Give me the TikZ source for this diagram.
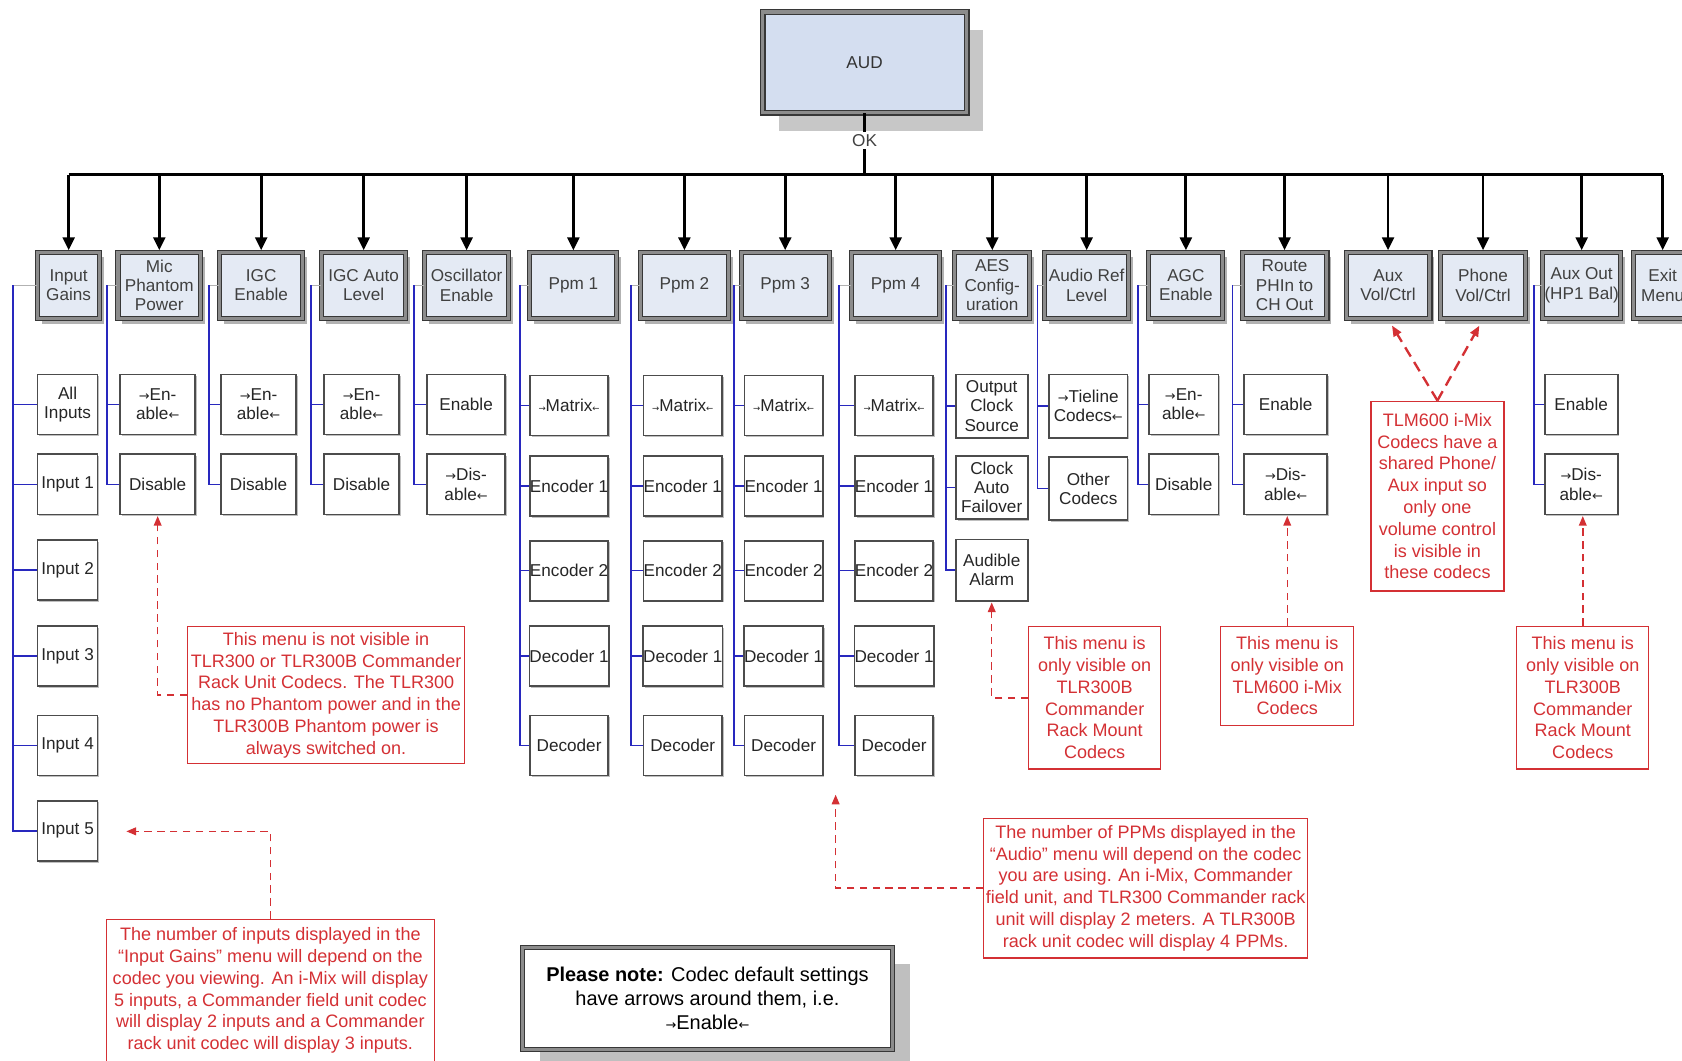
\documentclass[tikz,border=0pt]{standalone}
\usepackage{fontspec}
\setmainfont{Liberation Sans}
\newfontfamily\arrowfont{DejaVu Sans}
\usetikzlibrary{arrows.meta,shadows}
\definecolor{audfill}{RGB}{212,222,240}
\definecolor{topfill}{RGB}{228,234,244}
\definecolor{treeblue}{RGB}{40,40,190}
\definecolor{notered}{RGB}{212,48,52}
\definecolor{framec}{RGB}{55,55,55}
\definecolor{bandc}{RGB}{140,140,140}
\newcommand\rarr{{\arrowfont\fontsize{6}{6}\selectfont →}}
\newcommand\larr{{\arrowfont\fontsize{6}{6}\selectfont ←}}
\newcommand\srarr{{\arrowfont\fontsize{4}{4}\selectfont →}}
\newcommand\slarr{{\arrowfont\fontsize{4}{4}\selectfont ←}}
\tikzset{
  audbox/.style={rectangle, fill=audfill, draw=framec, double=bandc, double distance=1.6pt, line width=0.6pt,
    inner sep=0pt, align=center, text=black!80, font=\fontsize{8}{9}\selectfont,
    drop shadow={shadow xshift=7.5pt, shadow yshift=-8.5pt, fill=black!22, opacity=1}},
  topbox/.style={rectangle, fill=topfill, draw=framec, double=bandc, double distance=1.4pt, line width=0.5pt,
    inner sep=0pt, align=center, text=black!75, minimum height=31pt, font=\fontsize{8}{9}\selectfont,
    drop shadow={shadow xshift=2pt, shadow yshift=-2.5pt, fill=black!30, opacity=1}},
  subbox/.style={rectangle, fill=white, draw=black!70, line width=0.8pt, inner sep=0pt, align=center,
    text=black!85, minimum height=28pt, font=\fontsize{8}{9}\selectfont,
    drop shadow={shadow xshift=0.8pt, shadow yshift=-0.8pt, fill=black!25, opacity=1}},
  notebox/.style={rectangle, fill=white, draw=notered, line width=0.6pt, inner sep=0pt, align=center,
    text=notered, font=\fontsize{8.4}{10.15}\selectfont},
  pleasebox/.style={rectangle, fill=white, draw=framec, double=bandc, double distance=1.4pt, line width=0.5pt,
    inner sep=0pt, align=center, text=black, font=\fontsize{9.3}{11.3}\selectfont,
    drop shadow={shadow xshift=8pt, shadow yshift=-8pt, fill=black!25, opacity=1}},
  busline/.style={line width=1.5pt, black},
  busarrow/.style={line width=1.3pt, black, -{Triangle[length=6pt,width=5.5pt]}, shorten >=0.6pt},
  treeline/.style={line width=0.75pt, treeblue},
  graystub/.style={line width=0.5pt, black!30},
  notearrow/.style={line width=0.7pt, notered, dash pattern=on 3.5pt off 2.5pt, -{Triangle[length=4.5pt,width=3.6pt]}, shorten >=0.4pt},
  vnotearrow/.style={line width=1.1pt, notered, dash pattern=on 5pt off 3pt, -{Triangle[length=5pt,width=4pt]}, shorten >=3.5pt},
  oklabel/.style={fill=white, inner sep=1pt, text=black!75, font=\fontsize{8}{9}\selectfont}
}
\newcommand\mytree[4]{%
  \coordinate (t#2) at (#1,266);
  \draw[graystub] (t#2) -- (#2.west);
  \draw[treeline] (t#2) |- (#3.west);
  \foreach \c in {#4} \draw[treeline] (t#2 |- \c.west) -- (\c.west);
}
\begin{document}
\begin{tikzpicture}[x=0.5pt,y=-0.5pt]
\useasboundingbox (0,0) rectangle (1568,989);
\clip (0,0) rectangle (1568,989);
\fill[white] (0,0) rectangle (1568,989);

% root
\node[audbox, minimum width=95pt, minimum height=47pt] (aud) at (806,58) {AUD};
\node[oklabel] (ok) at (806,131) {OK};
\coordinate (bus) at (806,163);

% top level
\node[topbox, minimum width=29pt]   (ig)     at (64,266)    {Input\\Gains};
\node[topbox, minimum width=38.5pt] (mic)    at (148.5,266) {Mic\\Phantom\\Power};
\node[topbox, minimum width=38.5pt] (igc)    at (243.5,266) {IGC\\Enable};
\node[topbox, minimum width=39pt]   (igca)   at (339,266)   {IGC Auto\\Level};
\node[topbox, minimum width=39pt]   (osc)    at (435,266)   {Oscillator\\Enable};
\node[topbox, minimum width=40.5pt] (pa)     at (534.5,266) {Ppm 1};
\node[topbox, minimum width=41pt]   (pb)     at (638,266)   {Ppm 2};
\node[topbox, minimum width=41pt]   (pc)     at (732,266)   {Ppm 3};
\node[topbox, minimum width=41pt]   (pd)     at (835,266)   {Ppm 4};
\node[topbox, minimum width=35pt]   (aes)    at (925,266)   {AES\\Config-\\uration};
\node[topbox, minimum width=39pt]   (aref)   at (1013,266)  {Audio Ref\\Level};
\node[topbox, minimum width=34.5pt] (agc)    at (1105.5,266){AGC\\Enable};
\node[topbox, minimum width=39.5pt] (route)  at (1197.5,266){Route\\PHIn to\\CH Out};
\node[topbox, minimum width=39pt]   (aux)    at (1294,266)  {Aux\\Vol/Ctrl};
\node[topbox, minimum width=39.5pt] (phone)  at (1382.5,266){Phone\\Vol/Ctrl};
\node[topbox, minimum width=36.5pt] (auxout) at (1474.5,266){Aux Out\\(HP1 Bal)};
\node[topbox, minimum width=27pt]   (exit)   at (1550,266)  {Exit\\Menu};

% root connectors
\draw[busline] (aud.south) -- (ok.north);
\draw[busline] (ok.south) -- (bus);
\draw[busline] (ig.north |- bus) -- (exit.north |- bus);
\foreach \n in {ig,mic,igc,igca,osc,pa,pb,pc,pd,aes,aref,agc,route,aux,phone,auxout,exit}
  \draw[busarrow] (\n.north |- bus) -- (\n.north);

% Input Gains children
\node[subbox, minimum width=28pt] (ig1) at (63,377)   {All\\Inputs};
\node[subbox, minimum width=28pt] (ig2) at (63,451.5) {Input 1};
\node[subbox, minimum width=28pt] (ig3) at (63,531.5) {Input 2};
\node[subbox, minimum width=28pt] (ig4) at (63,611.5) {Input 3};
\node[subbox, minimum width=28pt] (ig5) at (63,695)   {Input 4};
\node[subbox, minimum width=28pt] (ig6) at (63,774.5) {Input 5};
% Mic
\node[subbox, minimum width=35pt] (mic1) at (147,377)   {\rarr En-\\able\larr};
\node[subbox, minimum width=35pt] (mic2) at (147,451.5) {Disable};
% IGC
\node[subbox, minimum width=35pt] (igc1) at (241,377)   {\rarr En-\\able\larr};
\node[subbox, minimum width=35pt] (igc2) at (241,451.5) {Disable};
% IGC Auto
\node[subbox, minimum width=35pt] (igca1) at (337,377)   {\rarr En-\\able\larr};
\node[subbox, minimum width=35pt] (igca2) at (337,451.5) {Disable};
% Oscillator
\node[subbox, minimum width=36.5pt] (osc1) at (434.5,377)   {Enable};
\node[subbox, minimum width=36.5pt] (osc2) at (434.5,451.5) {\rarr Dis-\\able\larr};
% Ppm columns
\foreach \p/\x in {pa/530.5,pb/636.5,pc/730.5,pd/833.5}{
  \node[subbox, minimum width=36.5pt] (\p1) at (\x,378)   {\srarr Matrix\slarr};
  \node[subbox, minimum width=36.5pt] (\p2) at (\x,453)   {Encoder 1};
  \node[subbox, minimum width=36.5pt] (\p3) at (\x,532)   {Encoder 2};
  \node[subbox, minimum width=36.5pt] (\p4) at (\x,611.5) {Decoder 1};
  \node[subbox, minimum width=36.5pt] (\p5) at (\x,695)   {Decoder};
}
% AES
\node[subbox, minimum width=33.5pt, minimum height=29.5pt] (aes1) at (924.5,378.5) {Output\\Clock\\Source};
\node[subbox, minimum width=33.5pt, minimum height=29.5pt] (aes2) at (924.5,454.5) {Clock\\Auto\\Failover};
\node[subbox, minimum width=33.5pt, minimum height=28.5pt] (aes3) at (924.5,531.5) {Audible\\Alarm};
% Audio Ref
\node[subbox, minimum width=36.5pt, minimum height=29.5pt] (aref1) at (1014.5,378.5) {\rarr Tieline\\Codecs\larr};
\node[subbox, minimum width=36.5pt, minimum height=29.5pt] (aref2) at (1014.5,455.5) {Other\\Codecs};
% AGC
\node[subbox, minimum width=32.5pt] (agc1) at (1103.5,377)   {\rarr En-\\able\larr};
\node[subbox, minimum width=32.5pt] (agc2) at (1103.5,451.5) {Disable};
% Route
\node[subbox, minimum width=38.5pt] (route1) at (1198.5,377)   {Enable};
\node[subbox, minimum width=38.5pt] (route2) at (1198.5,451.5) {\rarr Dis-\\able\larr};
% Aux Out
\node[subbox, minimum width=34pt] (auxout1) at (1474,377)   {Enable};
\node[subbox, minimum width=34pt] (auxout2) at (1474,451.5) {\rarr Dis-\\able\larr};

% trees
\mytree{12}{ig}{ig6}{ig1,ig2,ig3,ig4,ig5}
\mytree{100}{mic}{mic2}{mic1}
\mytree{195}{igc}{igc2}{igc1}
\mytree{290}{igca}{igca2}{igca1}
\mytree{386}{osc}{osc2}{osc1}
\mytree{485}{pa}{pa5}{pa1,pa2,pa3,pa4}
\mytree{588}{pb}{pb5}{pb1,pb2,pb3,pb4}
\mytree{684}{pc}{pc5}{pc1,pc2,pc3,pc4}
\mytree{782}{pd}{pd5}{pd1,pd2,pd3,pd4}
\mytree{882}{aes}{aes3}{aes1,aes2}
\mytree{967}{aref}{aref2}{aref1}
\mytree{1061}{agc}{agc2}{agc1}
\mytree{1149}{route}{route2}{route1}
\mytree{1430}{auxout}{auxout2}{auxout1}

% notes
\node[notebox, minimum width=129pt, minimum height=64pt] (n1) at (304,648)
  {This menu is not visible in\\TLR300 or TLR300B Commander\\Rack Unit Codecs. The TLR300\\has no Phantom power and in the\\TLR300B Phantom power is\\always switched on.};
\node[notebox, minimum width=153pt, minimum height=66.5pt] (n2) at (252,923.5)
  {The number of inputs displayed in the\\“Input Gains” menu will depend on the\\codec you viewing. An i-Mix will display\\5 inputs, a Commander field unit codec\\will display 2 inputs and a Commander\\rack unit codec will display 3 inputs.};
\node[pleasebox, minimum width=172.5pt, minimum height=47.5pt] (n3) at (659.5,930.5)
  {\textbf{Please note:} Codec default settings\\have arrows around them, i.e.\\\rarr Enable\larr};
\node[notebox, minimum width=151pt, minimum height=65pt] (n4) at (1068,828)
  {The number of PPMs displayed in the\\“Audio” menu will depend on the codec\\you are using. An i-Mix, Commander\\field unit, and TLR300 Commander rack\\unit will display 2 meters. A TLR300B\\rack unit codec will display 4 PPMs.};
\node[notebox, minimum width=61.5pt, minimum height=66.5pt] (n5) at (1020.5,650.5)
  {This menu is\\only visible on\\TLR300B\\Commander\\Rack Mount\\Codecs};
\node[notebox, minimum width=62pt, minimum height=46pt] (n6) at (1200,630)
  {This menu is\\only visible on\\TLM600 i-Mix\\Codecs};
\node[notebox, minimum width=62pt, minimum height=88.5pt] (n7) at (1340,462.5)
  {TLM600 i-Mix\\Codecs have a\\shared Phone/\\Aux input so\\only one\\volume control\\is visible in\\these codecs};
\node[notebox, minimum width=61.5pt, minimum height=66.5pt] (n8) at (1475.5,650.5)
  {This menu is\\only visible on\\TLR300B\\Commander\\Rack Mount\\Codecs};

% note connectors
\coordinate (inarr) at (117,775);
\coordinate (ppmarr) at (779,740);
\draw[notearrow] (n1.west) -| (mic2.south);
\draw[notearrow] (n2.north) |- (inarr);
\draw[notearrow] (n4.west) -| (ppmarr);
\draw[notearrow] (n5.west) -| (aes3.south);
\draw[notearrow] (n6.north) -- (n6.north |- route2.south);
\draw[notearrow] (n8.north) -- (n8.north |- auxout2.south);
\draw[vnotearrow] (n7.north) -- (aux.south);
\draw[vnotearrow] (n7.north) -- (phone.south);
\end{tikzpicture}
\end{document}
